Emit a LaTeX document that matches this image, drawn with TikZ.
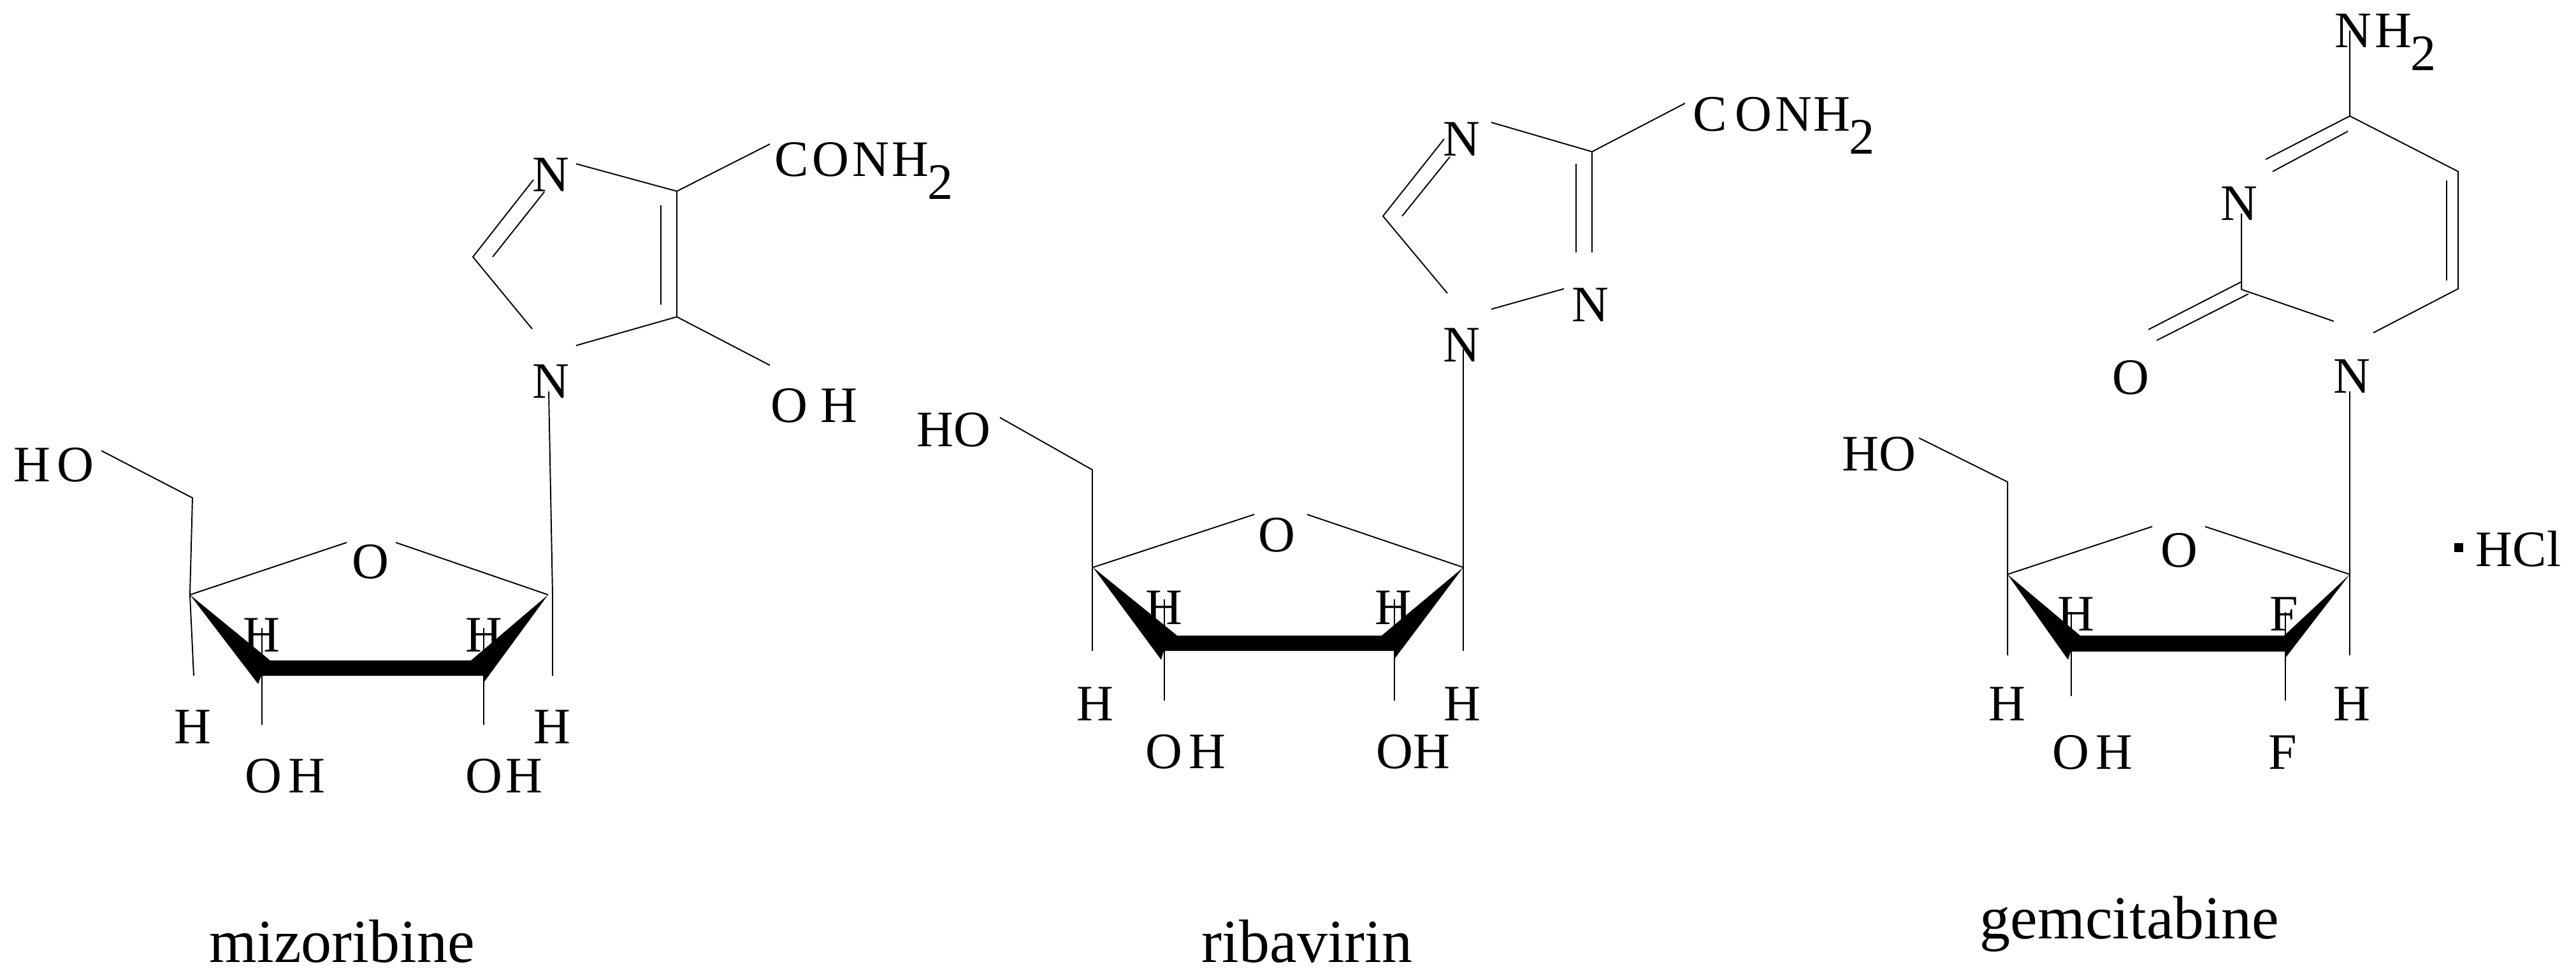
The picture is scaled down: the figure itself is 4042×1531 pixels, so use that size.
\documentclass[tikz,border=0pt]{standalone}
\usepackage{fontspec}
\setmainfont{Liberation Serif}
\newcommand{\subtwo}{\raisebox{-0.36cm}{2}}
\tikzset{
  bond/.style={draw,line width=0.55pt},
  atom/.style={font=\fontsize{22.8pt}{24pt}\selectfont,text height=0.53cm,text depth=0pt,inner sep=0pt},
  group/.style={atom,anchor=west},
  drug/.style={font=\fontsize{27.3pt}{30pt}\selectfont,inner sep=0pt,anchor=base west}
}
\begin{document}
\begin{tikzpicture}[x=0.01cm,y=-0.01cm]
\useasboundingbox (0,0) rectangle (4042,1531);
% mizoribine
\node[atom] (mN3) at (864,274) {N};
\node[atom] (mN1) at (864,598) {N};
\node[group] (mCONH) at (1215,250) {C\kern0.05cm O\kern0.05cm N\kern0.05cm H\kern-0.02cm\subtwo};
\node[group] (mOH) at (1209,636) {O\kern0.2cm H};
\node[group] (mHO) at (21,729) {H\kern0.1cm O};
\node[atom] (mO) at (581,881) {O};
\node[atom] (mH1) at (410,996) {H};
\node[atom] (mH2) at (759,996) {H};
\node[atom] (mH3) at (302,1140) {H};
\node[atom] (mH4) at (866,1140) {H};
\node[group] (mOH1) at (384,1217) {O\kern0.1cm H};
\node[group] (mOH2) at (730,1217) {O\kern0.05cm H};
\node[drug] (mName) at (328,1509) {mizoribine};
\coordinate (mC4) at (1062,300);
\coordinate (mC5) at (1062,497);
\coordinate (mC2) at (742,403);
\coordinate (mC6) at (302,781);
\coordinate (mL) at (298,933);
\coordinate (mR) at (860,933);
\coordinate (mA) at (904,257);
\coordinate (mB) at (1208,226);
\coordinate (mC) at (1208,573);
\coordinate (mD) at (837,282);
\coordinate (mE) at (835,516);
\coordinate (mF) at (904,542);
\coordinate (mG) at (159,707);
\coordinate (mT) at (861,614);
\coordinate (mP) at (867,932);
\coordinate (mQ) at (867,1060);
\coordinate (mS) at (304,1060);
\coordinate (mU) at (544,851);
\coordinate (mV) at (621,851);
\coordinate (mW) at (411,985);
\coordinate (mX) at (411,1137);
\coordinate (mY) at (759,985);
\coordinate (mZ) at (759,1137);
\coordinate (mI1) at (1037,322);
\coordinate (mI2) at (1037,478);
\coordinate (mI3) at (773,403);
\coordinate (mI4) at (854,301);
\draw[bond] (mA) -- (mC4) -- (mC5) -- (mF);
\draw[bond] (mC4) -- (mB);
\draw[bond] (mC5) -- (mC);
\draw[bond] (mI1) -- (mI2);
\draw[bond] (mD) -- (mC2) -- (mE);
\draw[bond] (mI3) -- (mI4);
\draw[bond] (mT) -- (mP) -- (mQ);
\draw[bond] (mG) -- (mC6) -- (mL) -- (mS);
\draw[bond] (mL) -- (mU);
\draw[bond] (mV) -- (mR);
\draw[bond] (mW) -- (mX);
\draw[bond] (mY) -- (mZ);
\fill (mL) -- (424,1036) -- (739,1036) -- (mR) -- (758,1072) -- (758,1060) -- (410,1060) -- (405,1073) -- cycle;
% ribavirin
\node[atom] (rN4) at (2293,218) {N};
\node[atom] (rN1) at (2293,541) {N};
\node[atom] (rN2) at (2495,478) {N};
\node[group] (rCONH) at (2656,179) {C\kern0.12cm O\kern0.05cm N\kern0.03cm H\kern-0.02cm\subtwo};
\node[group] (rHO) at (1438,674) {HO};
\node[atom] (rO) at (2003,839) {O};
\node[atom] (rH1) at (1826,953) {H};
\node[atom] (rH2) at (2186,953) {H};
\node[atom] (rH3) at (1718,1104) {H};
\node[atom] (rH4) at (2294,1104) {H};
\node[group] (rOH1) at (1797,1179) {O\kern0.1cm H};
\node[group] (rOH2) at (2159,1179) {OH};
\node[drug] (rName) at (1885,1509) {ribavirin};
\coordinate (rC3) at (2498,238);
\coordinate (rC5) at (2170,339);
\coordinate (rC6) at (1714,737);
\coordinate (rL) at (1715,890);
\coordinate (rR) at (2296,890);
\coordinate (rA) at (2340,192);
\coordinate (rB) at (2644,162);
\coordinate (rC) at (2498,396);
\coordinate (rD) at (2266,218);
\coordinate (rE) at (2271,460);
\coordinate (rF) at (2454,453);
\coordinate (rG) at (2340,485);
\coordinate (rH) at (1569,655);
\coordinate (rT) at (2296,548);
\coordinate (rQ) at (2296,1021);
\coordinate (rS) at (1714,1021);
\coordinate (rU) at (1968,807);
\coordinate (rV) at (2051,807);
\coordinate (rW) at (1827,940);
\coordinate (rX) at (1827,1099);
\coordinate (rY) at (2188,940);
\coordinate (rZ) at (2188,1099);
\coordinate (rI1) at (2473,257);
\coordinate (rI2) at (2473,396);
\coordinate (rI3) at (2200,339);
\coordinate (rI4) at (2275,246);
\draw[bond] (rA) -- (rC3) -- (rC);
\draw[bond] (rC3) -- (rB);
\draw[bond] (rI1) -- (rI2);
\draw[bond] (rD) -- (rC5) -- (rE);
\draw[bond] (rI3) -- (rI4);
\draw[bond] (rF) -- (rG);
\draw[bond] (rT) -- (rQ);
\draw[bond] (rH) -- (rC6) -- (rS);
\draw[bond] (rL) -- (rU);
\draw[bond] (rV) -- (rR);
\draw[bond] (rW) -- (rX);
\draw[bond] (rY) -- (rZ);
\fill (rL) -- (1847,997) -- (2168,997) -- (rR) -- (2187,1035) -- (2187,1021) -- (1826,1021) -- (1822,1035) -- cycle;
% gemcitabine
\node[group] (gNH) at (3663,48) {N\kern0.05cm H\kern-0.02cm\subtwo};
\node[atom] (gN3) at (3513,319) {N};
\node[atom] (gN1) at (3690,590) {N};
\node[atom] (gO2) at (3343,592) {O};
\node[group] (gHO) at (2890,712) {HO};
\node[atom] (gO) at (3419,863) {O};
\node[atom] (gH1) at (3257,963) {H};
\node[atom] (gF1) at (3584,963) {F};
\node[atom] (gH3) at (3149,1104) {H};
\node[atom] (gH4) at (3690,1104) {H};
\node[group] (gOH) at (3220,1180) {O\kern0.1cm H};
\node[atom] (gF2) at (3582,1180) {F};
\node[group] (gHCl) at (3884,862) {HCl};
\node[drug] (gName) at (3106,1472) {gemcitabine};
\node[fill=black,minimum size=0.14cm,inner sep=0pt] (gDot) at (3858,859) {};
\coordinate (gC4) at (3687,182);
\coordinate (gC5) at (3857,269);
\coordinate (gC6) at (3857,453);
\coordinate (gC2) at (3517,454);
\coordinate (gC7) at (3150,756);
\coordinate (gL) at (3150,901);
\coordinate (gR) at (3687,901);
\coordinate (gA) at (3687,48);
\coordinate (gB) at (3724,522);
\coordinate (gC) at (3662,504);
\coordinate (gD) at (3517,335);
\coordinate (gE) at (3555,250);
\coordinate (gF) at (3517,442);
\coordinate (gG) at (3371,517);
\coordinate (gH) at (3011,687);
\coordinate (gT) at (3687,614);
\coordinate (gQ) at (3687,1028);
\coordinate (gS) at (3150,1028);
\coordinate (gU) at (3377,826);
\coordinate (gV) at (3460,826);
\coordinate (gW) at (3250,960);
\coordinate (gX) at (3250,1092);
\coordinate (gY) at (3586,960);
\coordinate (gZ) at (3586,1099);
\coordinate (gI1) at (3839,283);
\coordinate (gI2) at (3839,440);
\coordinate (gI3) at (3566,269);
\coordinate (gI4) at (3684,206);
\coordinate (gI5) at (3528,461);
\coordinate (gI6) at (3384,534);
\draw[bond] (gA) -- (gC4) -- (gC5) -- (gC6) -- (gB);
\draw[bond] (gE) -- (gC4);
\draw[bond] (gI3) -- (gI4);
\draw[bond] (gI1) -- (gI2);
\draw[bond] (gC) -- (gC2) -- (gD);
\draw[bond] (gF) -- (gG);
\draw[bond] (gI5) -- (gI6);
\draw[bond] (gT) -- (gQ);
\draw[bond] (gH) -- (gC7) -- (gS);
\draw[bond] (gL) -- (gU);
\draw[bond] (gV) -- (gR);
\draw[bond] (gW) -- (gX);
\draw[bond] (gY) -- (gZ);
\fill (gL) -- (3264,997) -- (3584,997) -- (gR) -- (3586,1032) -- (3586,1022) -- (3249,1022) -- (3245,1035) -- cycle;
\end{tikzpicture}
\end{document}
